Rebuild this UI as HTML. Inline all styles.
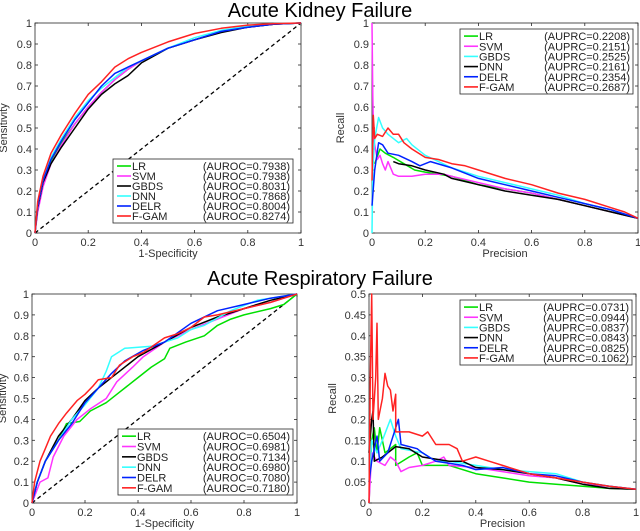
<!DOCTYPE html>
<html><head><meta charset="utf-8">
<style>
html,body{margin:0;padding:0;background:#fff;}
svg{display:block;font-family:"Liberation Sans",sans-serif;}
</style></head>
<body>
<svg id="chart" width="640" height="531" viewBox="0 0 640 531" xmlns="http://www.w3.org/2000/svg">
<text x="320" y="17" text-anchor="middle" font-size="20" fill="#000">Acute Kidney Failure</text>
<text x="320" y="285" text-anchor="middle" font-size="20" fill="#000">Acute Respiratory Failure</text>
</svg>
<script>
const seriesNames = ["LR","SVM","GBDS","DNN","DELR","F-GAM"];
const rocColors = ["#00e000","#ff33ff","#000000","#33ffff","#0022ff","#ff2222"];
const prColors = ["#00e000","#ff33ff","#33ffff","#000000","#0022ff","#ff2222"];
const xTicks = [0,0.2,0.4,0.6,0.8,1];
const yTicks10 = [0,0.1,0.2,0.3,0.4,0.5,0.6,0.7,0.8,0.9,1];
const yTicks05 = [0,0.05,0.1,0.15,0.2,0.25,0.3,0.35,0.4,0.45,0.5];

const akiAuroc = ["0.7938","0.7938","0.8031","0.7868","0.8004","0.8274"];
const akiAuprc = ["0.2208","0.2151","0.2525","0.2161","0.2354","0.2687"];
const arfAuroc = ["0.6504","0.6981","0.7134","0.6980","0.7080","0.7180"];
const arfAuprc = ["0.0731","0.0944","0.0837","0.0843","0.0825","0.1062"];

const akiRocLR = [[0,0],[0.01,0.12],[0.03,0.24],[0.06,0.34],[0.1,0.43],[0.15,0.52],[0.2,0.6],[0.25,0.67],[0.3,0.73],[0.35,0.78],[0.4,0.82],[0.5,0.88],[0.6,0.92],[0.7,0.96],[0.8,0.98],[0.9,0.995],[1,1]];
const akiRocSVM = [[0,0],[0.01,0.1],[0.03,0.22],[0.06,0.33],[0.1,0.42],[0.15,0.52],[0.2,0.6],[0.25,0.67],[0.3,0.73],[0.35,0.78],[0.4,0.82],[0.5,0.88],[0.6,0.92],[0.7,0.96],[0.8,0.98],[0.9,0.995],[1,1]];
const akiRocGBDS = [[0,0],[0.01,0.12],[0.03,0.24],[0.06,0.33],[0.1,0.41],[0.15,0.5],[0.2,0.59],[0.25,0.66],[0.3,0.71],[0.35,0.75],[0.4,0.81],[0.5,0.88],[0.6,0.92],[0.7,0.955],[0.8,0.98],[0.9,0.995],[1,1]];
const akiRocDNN = [[0,0],[0.01,0.13],[0.03,0.25],[0.06,0.36],[0.1,0.45],[0.15,0.55],[0.2,0.63],[0.25,0.69],[0.3,0.74],[0.35,0.79],[0.4,0.82],[0.5,0.88],[0.6,0.93],[0.7,0.965],[0.8,0.985],[0.9,0.997],[1,1]];
const akiRocDELR = [[0,0],[0.01,0.13],[0.03,0.25],[0.06,0.35],[0.1,0.44],[0.15,0.54],[0.2,0.62],[0.25,0.7],[0.3,0.76],[0.35,0.79],[0.4,0.82],[0.5,0.88],[0.6,0.92],[0.7,0.96],[0.8,0.98],[0.9,0.995],[1,1]];
const akiRocFGAM = [[0,0],[0.01,0.15],[0.03,0.27],[0.06,0.38],[0.1,0.47],[0.15,0.57],[0.2,0.66],[0.25,0.72],[0.3,0.79],[0.35,0.83],[0.4,0.86],[0.5,0.91],[0.6,0.95],[0.7,0.975],[0.8,0.99],[0.9,0.997],[1,1]];

const akiPrLR = [[0.01,0.33],[0.03,0.4],[0.05,0.38],[0.08,0.36],[0.12,0.33],[0.16,0.3],[0.2,0.29],[0.3,0.27],[0.4,0.23],[0.5,0.21],[0.6,0.19],[0.7,0.16],[0.8,0.13],[0.9,0.1],[1,0.07]];
const akiPrSVM = [[0,1],[0.003,0.65],[0.006,0.45],[0.02,0.35],[0.03,0.37],[0.04,0.33],[0.05,0.3],[0.06,0.34],[0.08,0.28],[0.1,0.27],[0.15,0.27],[0.2,0.28],[0.27,0.28],[0.3,0.27],[0.4,0.24],[0.5,0.21],[0.6,0.19],[0.7,0.16],[0.8,0.13],[0.9,0.1],[1,0.07]];
const akiPrGBDS = [[0,0],[0.003,0.3],[0.01,0.45],[0.025,0.55],[0.04,0.5],[0.06,0.47],[0.1,0.43],[0.13,0.45],[0.15,0.42],[0.2,0.37],[0.25,0.34],[0.3,0.31],[0.4,0.27],[0.5,0.24],[0.6,0.21],[0.7,0.18],[0.8,0.14],[0.9,0.11],[1,0.07]];
const akiPrDNN = [[0.08,0.34],[0.1,0.33],[0.15,0.32],[0.2,0.3],[0.27,0.28],[0.3,0.26],[0.4,0.23],[0.5,0.2],[0.6,0.18],[0.7,0.16],[0.8,0.13],[0.9,0.1],[1,0.07]];
const akiPrDELR = [[0,0.13],[0.01,0.3],[0.025,0.43],[0.04,0.42],[0.06,0.38],[0.1,0.37],[0.15,0.34],[0.18,0.32],[0.22,0.34],[0.3,0.31],[0.4,0.26],[0.5,0.23],[0.6,0.2],[0.7,0.17],[0.8,0.14],[0.9,0.11],[1,0.07]];
const akiPrFGAM = [[0,0.25],[0.005,0.56],[0.01,0.45],[0.02,0.47],[0.04,0.46],[0.06,0.5],[0.08,0.47],[0.1,0.47],[0.12,0.43],[0.15,0.4],[0.2,0.36],[0.25,0.35],[0.3,0.33],[0.35,0.32],[0.4,0.3],[0.5,0.26],[0.6,0.23],[0.7,0.19],[0.8,0.16],[0.9,0.12],[0.95,0.1],[1,0.07]];

const arfRocLR = [[0,0],[0.02,0.1],[0.05,0.2],[0.1,0.3],[0.13,0.38],[0.18,0.39],[0.22,0.44],[0.28,0.48],[0.33,0.53],[0.4,0.6],[0.45,0.65],[0.5,0.69],[0.52,0.74],[0.58,0.77],[0.65,0.8],[0.7,0.85],[0.75,0.88],[0.8,0.9],[0.9,0.93],[0.95,0.95],[1,1]];
const arfRocSVM = [[0,0],[0.03,0.1],[0.06,0.12],[0.08,0.22],[0.12,0.32],[0.17,0.4],[0.22,0.45],[0.28,0.5],[0.32,0.58],[0.38,0.65],[0.42,0.7],[0.5,0.77],[0.6,0.83],[0.7,0.88],[0.8,0.93],[0.9,0.96],[1,1]];
const arfRocGBDS = [[0,0],[0.02,0.1],[0.05,0.2],[0.1,0.32],[0.15,0.4],[0.2,0.49],[0.25,0.55],[0.3,0.6],[0.33,0.63],[0.4,0.7],[0.5,0.77],[0.6,0.84],[0.7,0.89],[0.8,0.93],[0.9,0.97],[1,1]];
const arfRocDNN = [[0,0],[0.02,0.1],[0.05,0.2],[0.1,0.3],[0.15,0.4],[0.2,0.47],[0.25,0.55],[0.28,0.63],[0.3,0.7],[0.35,0.74],[0.45,0.75],[0.55,0.79],[0.6,0.83],[0.65,0.85],[0.75,0.92],[0.85,0.97],[0.95,0.99],[1,1]];
const arfRocDELR = [[0,0],[0.02,0.1],[0.05,0.2],[0.1,0.3],[0.15,0.38],[0.2,0.48],[0.25,0.55],[0.3,0.62],[0.35,0.68],[0.42,0.73],[0.5,0.77],[0.6,0.86],[0.7,0.92],[0.8,0.95],[0.9,0.98],[1,1]];
const arfRocFGAM = [[0,0],[0.01,0.1],[0.03,0.2],[0.05,0.26],[0.07,0.32],[0.1,0.38],[0.13,0.43],[0.17,0.49],[0.2,0.52],[0.23,0.56],[0.25,0.59],[0.3,0.6],[0.33,0.66],[0.38,0.7],[0.42,0.72],[0.5,0.79],[0.55,0.81],[0.6,0.84],[0.65,0.89],[0.7,0.9],[0.8,0.93],[0.9,0.96],[0.95,0.98],[1,1]];

const arfPrLR = [[0,0],[0.01,0.15],[0.02,0.18],[0.03,0.12],[0.04,0.18],[0.06,0.12],[0.1,0.14],[0.1,0.09],[0.15,0.11],[0.18,0.12],[0.2,0.09],[0.3,0.09],[0.4,0.07],[0.5,0.06],[0.6,0.05],[0.7,0.045],[0.8,0.04],[0.9,0.035],[1,0.033]];
const arfPrSVM = [[0,0],[0.01,0.12],[0.03,0.1],[0.06,0.09],[0.08,0.11],[0.1,0.1],[0.12,0.075],[0.15,0.085],[0.2,0.09],[0.25,0.1],[0.28,0.11],[0.3,0.09],[0.4,0.085],[0.5,0.075],[0.6,0.065],[0.7,0.06],[0.8,0.045],[0.9,0.04],[1,0.033]];
const arfPrGBDS = [[0,0.05],[0.01,0.15],[0.03,0.12],[0.05,0.15],[0.08,0.2],[0.1,0.16],[0.12,0.13],[0.2,0.12],[0.25,0.1],[0.3,0.1],[0.4,0.09],[0.5,0.08],[0.6,0.075],[0.7,0.07],[0.8,0.05],[0.9,0.04],[1,0.033]];
const arfPrDNN = [[0,0.12],[0.01,0.2],[0.015,0.22],[0.02,0.1],[0.05,0.11],[0.1,0.135],[0.15,0.13],[0.2,0.11],[0.25,0.105],[0.3,0.1],[0.35,0.1],[0.4,0.085],[0.5,0.08],[0.6,0.07],[0.7,0.06],[0.8,0.045],[0.9,0.035],[1,0.033]];
const arfPrDELR = [[0,0.05],[0.01,0.1],[0.03,0.16],[0.04,0.1],[0.07,0.12],[0.1,0.18],[0.11,0.2],[0.12,0.14],[0.18,0.13],[0.2,0.12],[0.25,0.1],[0.3,0.095],[0.35,0.09],[0.4,0.08],[0.5,0.085],[0.6,0.07],[0.7,0.065],[0.8,0.05],[0.9,0.04],[1,0.033]];
const arfPrFGAM = [[0,0],[0.005,0.3],[0.01,0.5],[0.015,0.2],[0.025,0.3],[0.03,0.43],[0.035,0.2],[0.05,0.25],[0.06,0.31],[0.07,0.28],[0.08,0.27],[0.09,0.22],[0.1,0.26],[0.1,0.17],[0.15,0.17],[0.2,0.16],[0.22,0.17],[0.25,0.14],[0.3,0.14],[0.33,0.13],[0.35,0.1],[0.4,0.11],[0.45,0.1],[0.5,0.09],[0.6,0.07],[0.7,0.06],[0.8,0.05],[0.9,0.04],[1,0.033]];

const NS = "http://www.w3.org/2000/svg";
const svg = document.getElementById("chart");
function mk(tag, attrs, parent){
  const e = document.createElementNS(NS, tag);
  for (const k in attrs) e.setAttribute(k, attrs[k]);
  (parent||svg).appendChild(e);
  return e;
}
function fmt(v){ return String(Math.round(v*100)/100); }

function panel(p){
  const g = mk("g", {});
  
  
  const sx = v => p.x0 + v * (p.x1 - p.x0);
  const sy = v => p.y0 - v / p.ymax * (p.y0 - p.y1);
  const rect = mk("rect", {x:p.x0, y:p.y1, width:p.x1-p.x0, height:p.y0-p.y1, fill:"#fff", stroke:"#262626", "stroke-width":0.8}, g);
  
  
  xTicks.forEach(t => {
    const x = sx(t);
    mk("line", {x1:x, x2:x, y1:p.y0, y2:p.y0-3, stroke:"#262626", "stroke-width":0.8}, g);
    mk("line", {x1:x, x2:x, y1:p.y1, y2:p.y1+3, stroke:"#262626", "stroke-width":0.8}, g);
    const tx = mk("text", {x:x, y:p.y0+13, "text-anchor":"middle", "font-size":11, fill:"#333"}, g);
    tx.textContent = fmt(t);
    
    
  });
  p.yTicks.forEach(t => {
    const y = sy(t);
    mk("line", {x1:p.x0, x2:p.x0+3, y1:y, y2:y, stroke:"#262626", "stroke-width":0.8}, g);
    mk("line", {x1:p.x1, x2:p.x1-3, y1:y, y2:y, stroke:"#262626", "stroke-width":0.8}, g);
    const ty = mk("text", {x:p.x0-3, y:y+4, "text-anchor":"end", "font-size":11, fill:"#333"}, g);
    ty.textContent = fmt(t);
    
    
  });
  const xl = mk("text", {x:(p.x0+p.x1)/2, y:p.y0+24, "text-anchor":"middle", "font-size":11, fill:"#333"}, g);
  xl.textContent = p.xlabel;
  
  
  const yl = mk("text", {x:0, y:0, "text-anchor":"middle", "font-size":11, fill:"#333", transform:`translate(${p.x0-p.ylOff},${(p.y0+p.y1)/2}) rotate(-90)`}, g);
  yl.textContent = p.ylabel;
  
  
  if (p.diag){
    const d = mk("line", {x1:sx(0), y1:sy(0), x2:sx(1), y2:sy(1), stroke:"#000", "stroke-width":1.3, "stroke-dasharray":"4,3"}, g);
    
    
  }
  p.series.forEach((s, i) => {
    const pts = s.map(q => sx(q[0]).toFixed(1)+","+sy(q[1]).toFixed(1)).join(" ");
    const pl = mk("polyline", {points:pts, fill:"none", stroke:p.colors[i], "stroke-width":1.5, "stroke-linejoin":"round"}, g);
    
    
  });
  const L = p.legend;
  const lg = mk("g", {}, g);
  
  
  mk("rect", {x:L.x, y:L.y, width:L.w, height:L.h, fill:"#fff", stroke:"#262626", "stroke-width":0.8}, lg);
  const rowH = (L.h - 4) / 6;
  seriesNames.forEach((n, i) => {
    const cy = L.y + 2 + rowH*(i+0.5);
    const e = mk("g", {}, lg);
    
    
    mk("line", {x1:L.x+4, x2:L.x+18, y1:cy, y2:cy, stroke:p.colors[i], "stroke-width":1.6}, e);
    const t1 = mk("text", {x:L.x+19, y:cy+4, "font-size":11, fill:"#222"}, e);
    t1.textContent = n;
    const t2 = mk("text", {x:L.x+L.w-3, y:cy+4, "font-size":11, fill:"#222", "text-anchor":"end"}, e);
    t2.textContent = "(" + L.metric + "=" + L.vals[i] + ")";
  });
}

panel({name:"kidney-roc-panel", x0:35, x1:301, y0:233, y1:23, ymax:1, yTicks:yTicks10, xlabel:"1-Specificity", ylabel:"Sensitivity", ylOff:28, diag:true, colors:rocColors,
  series:[akiRocLR,akiRocSVM,akiRocGBDS,akiRocDNN,akiRocDELR,akiRocFGAM],
  legend:{x:113, y:159, w:180, h:64, metric:"AUROC", vals:akiAuroc}});
panel({name:"kidney-pr-panel", x0:372, x1:638, y0:233, y1:23, ymax:1, yTicks:yTicks10, xlabel:"Precision", ylabel:"Recall", ylOff:28, diag:false, colors:prColors,
  series:[akiPrLR,akiPrSVM,akiPrGBDS,akiPrDNN,akiPrDELR,akiPrFGAM],
  legend:{x:460, y:29, w:173, h:65, metric:"AUPRC", vals:akiAuprc}});
panel({name:"respiratory-roc-panel", x0:32, x1:297, y0:503, y1:294, ymax:1, yTicks:yTicks10, xlabel:"1-Specificity", ylabel:"Sensitivity", ylOff:26, diag:true, colors:rocColors,
  series:[arfRocLR,arfRocSVM,arfRocGBDS,arfRocDNN,arfRocDELR,arfRocFGAM],
  legend:{x:118, y:429, w:175, h:66, metric:"AUROC", vals:arfAuroc}});
panel({name:"respiratory-pr-panel", x0:369, x1:636, y0:503, y1:294, ymax:0.5, yTicks:yTicks05, xlabel:"Precision", ylabel:"Recall", ylOff:33, diag:false, colors:prColors,
  series:[arfPrLR,arfPrSVM,arfPrGBDS,arfPrDNN,arfPrDELR,arfPrFGAM],
  legend:{x:460, y:300, w:172, h:65, metric:"AUPRC", vals:arfAuprc}});
</script>
</body></html>
